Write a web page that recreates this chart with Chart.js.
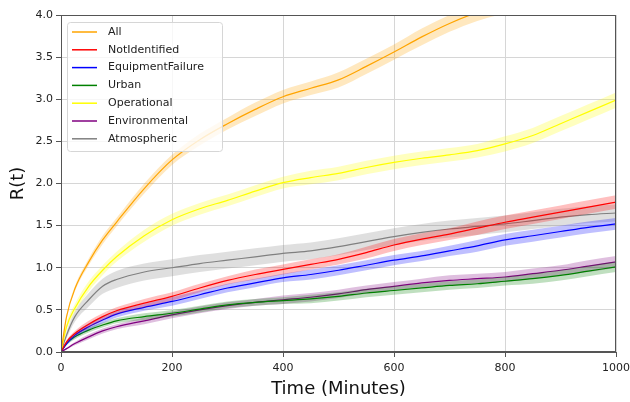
<!DOCTYPE html>
<html>
<head>
<meta charset="utf-8">
<script src="https://cdn.jsdelivr.net/npm/chart.js@4.4.1/dist/chart.umd.min.js"></script>
<style>
  html, body { margin: 0; padding: 0; background: #fff; }
</style>
</head>
<body>
<canvas id="chart" width="630" height="402"></canvas>
<script>
// time axis (minutes)
const times = [0, 10, 25, 50, 75, 100, 150, 200, 250, 300, 350, 400, 450, 500, 550, 600, 650, 700, 750, 800, 850, 900, 950, 1000];

const seriesNames = ["All", "NotIdentified", "EquipmentFailure", "Urban", "Operational", "Environmental", "Atmospheric"];

// R(t) estimates
const allR       = [0, 0.42, 0.75, 1.07, 1.33, 1.54, 1.94, 2.28, 2.52, 2.71, 2.88, 3.03, 3.13, 3.23, 3.39, 3.56, 3.74, 3.9, 4.03, 4.12, 4.2, 4.28, 4.36, 4.44];
const notIdR     = [0, 0.12, 0.22, 0.33, 0.42, 0.49, 0.58, 0.66, 0.76, 0.85, 0.92, 0.98, 1.04, 1.1, 1.18, 1.27, 1.34, 1.4, 1.47, 1.54, 1.6, 1.66, 1.72, 1.78];
const equipR     = [0, 0.1, 0.2, 0.3, 0.38, 0.45, 0.53, 0.6, 0.68, 0.76, 0.82, 0.88, 0.92, 0.97, 1.03, 1.09, 1.14, 1.2, 1.26, 1.33, 1.38, 1.43, 1.48, 1.52];
const urbanR     = [0, 0.1, 0.18, 0.26, 0.32, 0.37, 0.42, 0.46, 0.51, 0.56, 0.59, 0.61, 0.63, 0.66, 0.7, 0.73, 0.76, 0.79, 0.81, 0.84, 0.87, 0.91, 0.96, 1.01];
const operR      = [0, 0.3, 0.52, 0.78, 0.97, 1.13, 1.38, 1.57, 1.7, 1.8, 1.91, 2.01, 2.07, 2.12, 2.19, 2.25, 2.3, 2.34, 2.39, 2.47, 2.57, 2.71, 2.85, 2.99];
const envR       = [0, 0.04, 0.1, 0.18, 0.25, 0.3, 0.37, 0.44, 0.5, 0.55, 0.59, 0.62, 0.65, 0.69, 0.74, 0.78, 0.82, 0.85, 0.87, 0.89, 0.93, 0.97, 1.02, 1.07];
const atmosR     = [0, 0.2, 0.42, 0.62, 0.78, 0.86, 0.95, 1.0, 1.05, 1.09, 1.13, 1.17, 1.2, 1.25, 1.31, 1.37, 1.42, 1.46, 1.49, 1.52, 1.56, 1.6, 1.63, 1.65];

// half-width of the shaded confidence bands
const allBand    = [0, 0.02, 0.03, 0.04, 0.05, 0.05, 0.06, 0.06, 0.07, 0.07, 0.08, 0.08, 0.08, 0.09, 0.09, 0.09, 0.1, 0.1, 0.1, 0.1, 0.1, 0.1, 0.1, 0.1];
const notIdBand  = [0, 0.02, 0.03, 0.04, 0.04, 0.04, 0.05, 0.05, 0.05, 0.05, 0.06, 0.06, 0.06, 0.06, 0.07, 0.07, 0.07, 0.07, 0.08, 0.08, 0.08, 0.08, 0.08, 0.08];
const equipBand  = [0, 0.02, 0.03, 0.04, 0.04, 0.04, 0.04, 0.05, 0.05, 0.05, 0.05, 0.05, 0.06, 0.06, 0.06, 0.06, 0.06, 0.06, 0.07, 0.07, 0.07, 0.07, 0.07, 0.07];
const urbanBand  = [0, 0.02, 0.03, 0.03, 0.03, 0.03, 0.04, 0.04, 0.04, 0.04, 0.04, 0.04, 0.05, 0.05, 0.05, 0.05, 0.05, 0.05, 0.05, 0.05, 0.06, 0.06, 0.06, 0.06];
const operBand   = [0, 0.04, 0.05, 0.06, 0.06, 0.06, 0.07, 0.07, 0.07, 0.07, 0.07, 0.07, 0.08, 0.08, 0.08, 0.08, 0.08, 0.08, 0.08, 0.09, 0.09, 0.09, 0.09, 0.09];
const envBand    = [0, 0.01, 0.02, 0.03, 0.03, 0.03, 0.04, 0.04, 0.04, 0.04, 0.04, 0.05, 0.05, 0.05, 0.05, 0.05, 0.05, 0.06, 0.06, 0.06, 0.06, 0.06, 0.07, 0.07];
const atmosBand  = [0, 0.04, 0.06, 0.08, 0.09, 0.1, 0.1, 0.1, 0.1, 0.1, 0.1, 0.1, 0.1, 0.1, 0.1, 0.1, 0.1, 0.1, 0.1, 0.1, 0.1, 0.1, 0.1, 0.1];

const xTickValues = [0, 200, 400, 600, 800, 1000];
const yTickValues = [0, 0.5, 1, 1.5, 2, 2.5, 3, 3.5, 4];

const seriesValues = [allR, notIdR, equipR, urbanR, operR, envR, atmosR];
const seriesBands = [allBand, notIdBand, equipBand, urbanBand, operBand, envBand, atmosBand];
const seriesRgb = ["255,165,0", "255,0,0", "0,0,255", "0,128,0", "255,255,0", "128,0,128", "128,128,128"];

function points(vals) {
  return vals.map((v, i) => ({ x: times[i], y: v }));
}

const datasets = [];
seriesNames.forEach((name, s) => {
  const vals = seriesValues[s];
  const band = seriesBands[s];
  const rgb = seriesRgb[s];
  datasets.push({
    label: name + " upper",
    data: points(vals.map((v, i) => v + band[i])),
    borderWidth: 0,
    pointRadius: 0,
    fill: "+1",
    backgroundColor: `rgba(${rgb},0.25)`,
    cubicInterpolationMode: "monotone",
  });
  datasets.push({
    label: name + " lower",
    data: points(vals.map((v, i) => Math.max(0, v - band[i]))),
    borderWidth: 0,
    pointRadius: 0,
    fill: false,
    cubicInterpolationMode: "monotone",
  });
  datasets.push({
    label: name,
    data: points(vals),
    borderColor: `rgb(${rgb})`,
    borderWidth: 1.2,
    pointRadius: 0,
    fill: false,
    cubicInterpolationMode: "monotone",
  });
});

const frameAndLegend = {
  id: "frameAndLegend",
  afterDatasetsDraw(chart) {
    const { ctx, chartArea: a } = chart;
    ctx.save();
    ctx.strokeStyle = "#555";
    ctx.lineWidth = 1;
    ctx.strokeRect(a.left + 0.5, a.top + 0.5, a.right - a.left - 1, a.bottom - a.top - 1);

    // legend box, top-left inside the plot
    const bx = a.left + 6, by = a.top + 7, bw = 155, bh = 129;
    ctx.beginPath();
    ctx.roundRect(bx + 0.5, by + 0.5, bw, bh, 3);
    ctx.fillStyle = "rgba(255,255,255,0.8)";
    ctx.fill();
    ctx.strokeStyle = "#d6d6d6";
    ctx.stroke();

    ctx.font = "11px 'DejaVu Sans'";
    ctx.textBaseline = "middle";
    seriesNames.forEach((name, i) => {
      const y = by + 10 + i * 17.8;
      ctx.strokeStyle = `rgb(${seriesRgb[i]})`;
      ctx.lineWidth = 1.5;
      ctx.beginPath();
      ctx.moveTo(bx + 5, y);
      ctx.lineTo(bx + 30, y);
      ctx.stroke();
      ctx.fillStyle = "#222";
      ctx.fillText(name, bx + 41, y);
    });
    ctx.restore();
  },
};

new Chart(document.getElementById("chart"), {
  type: "line",
  data: { datasets },
  plugins: [frameAndLegend],
  options: {
    responsive: false,
    devicePixelRatio: 1,
    animation: false,
    layout: { padding: { top: 15, right: 14, left: 0, bottom: 0 } },
    plugins: {
      legend: { display: false },
      tooltip: { enabled: false },
    },
    scales: {
      x: {
        type: "linear",
        min: 0,
        max: 1000,
        afterBuildTicks: (scale) => { scale.ticks = xTickValues.map((v) => ({ value: v })); },
        afterFit: (scale) => {
          scale.height = 50;
          scale.paddingRight = 0;
          scale.paddingLeft = 0;
        },
        ticks: {
          font: { family: "DejaVu Sans", size: 11 },
          color: "#222",
          padding: 5,
          maxRotation: 0,
          callback: (v) => String(v),
        },
        grid: { color: "#d6d6d6", tickLength: 5, tickColor: "#555" },
        border: { color: "#555" },
        title: {
          display: true,
          text: "Time (Minutes)",
          font: { family: "DejaVu Sans", size: 18 },
          color: "#111",
          padding: { top: 2, bottom: 2 },
        },
      },
      y: {
        min: 0,
        max: 4,
        afterBuildTicks: (scale) => { scale.ticks = yTickValues.map((v) => ({ value: v })); },
        afterFit: (scale) => { scale.width = 61; },
        ticks: {
          font: { family: "DejaVu Sans", size: 11 },
          color: "#222",
          padding: 3,
          callback: (v) => v.toFixed(1),
        },
        grid: { color: "#d6d6d6", tickLength: 5, tickColor: "#555" },
        border: { color: "#555" },
        title: {
          display: true,
          text: "R(t)",
          font: { family: "DejaVu Sans", size: 18 },
          color: "#111",
          padding: { top: 8, bottom: 0 },
        },
      },
    },
  },
});
</script>
</body>
</html>
